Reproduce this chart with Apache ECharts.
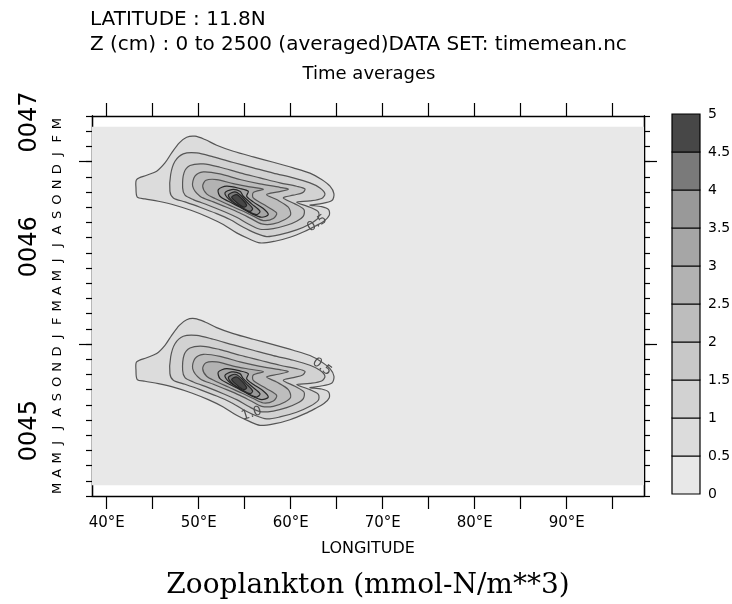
<!DOCTYPE html>
<html><head><meta charset="utf-8">
<script src="https://cdn.jsdelivr.net/npm/echarts@6/dist/echarts.min.js"></script>
<style>html,body{margin:0;padding:0;background:#fff}#c{width:732px;height:604px}</style>
</head><body><div id="c"></div>
<script>
// ---------- data ----------
// x: longitude (deg E); y: months counted from 1 Jan 0045 (Jan 0046 = 12, Jan 0047 = 24)
const lonTicks = [40, 45, 50, 55, 60, 65, 70, 75, 80, 85, 90, 95];
const lonLabels = [40, 50, 60, 70, 80, 90];
const monthTicks = [2,3,4,5,6,7,8,9,10,11,12,13,14,15,16,17,18,19,20,21,22,23,24,25,26,27];
const yearTicks = [12, 24];
const monthLetters = ['J','F','M','A','M','J','J','A','S','O','N','D'];
const yearNames = ['0045', '0046', '0047'];
const yearLabelPos = [6.3, 18.4, 26.6];
const levels = [0, 0.5, 1, 1.5, 2, 2.5, 3, 3.5, 4, 4.5, 5];
const levelColors = ['#e8e8e8','#dcdcdc','#d2d2d2','#c8c8c8','#bdbdbd','#b2b2b2','#a6a6a6','#999999','#7a7a7a','#474747'];
const fieldLon = [38.4, 98.4];
const fieldTime = [2.7, 26.3];
// the seasonal blob repeats each year: month index of 1 Jan of each year shown
const blobYearStart = [0, 12];
// contours of one blob: [lon, month within year]
const cont05 = [[43.25,10.82],[44.34,11.10],[45.43,11.37],[46.33,11.91],[47.06,12.57],[47.89,13.23],[48.69,13.60],[49.59,13.67],[50.68,13.45],[51.95,13.08],[53.76,12.68],[55.93,12.31],[58.11,11.96],[60.28,11.59],[62.09,11.24],[63.36,10.82],[64.27,10.38],[64.70,9.88],[64.48,9.44],[63.18,9.22],[62.09,9.13],[63.36,9.04],[64.12,8.84],[64.19,8.47],[63.61,8.08],[62.64,7.75],[61.55,7.42],[59.92,7.02],[58.29,6.76],[56.66,6.65],[55.39,6.94],[54.12,7.31],[52.67,7.86],[51.04,8.34],[49.23,8.78],[47.42,9.13],[45.61,9.39],[44.16,9.55],[43.32,9.66],[43.18,10.27]];
const cont10 = [[46.87,10.05],[46.95,11.15],[47.42,12.02],[48.32,12.51],[49.77,12.57],[51.59,12.31],[53.76,11.94],[55.93,11.59],[58.11,11.24],[60.28,10.93],[62.09,10.60],[63.18,10.27],[63.72,9.88],[63.36,9.57],[62.09,9.41],[60.64,9.33],[62.09,9.00],[63.00,8.69],[63.00,8.30],[62.09,7.90],[60.64,7.51],[58.83,7.20],[57.38,7.07],[56.11,7.31],[54.85,7.68],[53.40,8.19],[51.95,8.58],[50.14,9.00],[48.51,9.35],[47.24,9.61]];
const cont15 = [[48.25,10.27],[48.40,11.26],[49.05,11.74],[50.50,11.85],[52.31,11.63],[54.48,11.26],[56.66,10.93],[58.83,10.60],[60.64,10.38],[61.55,10.20],[61.30,9.96],[60.28,9.79],[59.19,9.61],[60.46,9.22],[61.44,8.84],[61.37,8.41],[60.64,8.08],[59.56,7.81],[58.11,7.59],[56.66,7.55],[55.39,7.90],[54.12,8.34],[52.67,8.73],[51.04,9.13],[49.41,9.50],[48.51,9.79]];
const cont20 = [[49.34,10.38],[49.59,11.04],[50.50,11.32],[52.31,11.19],[54.48,10.82],[56.66,10.53],[58.83,10.31],[59.74,10.18],[58.65,10.01],[57.38,9.83],[58.47,9.50],[59.74,9.00],[59.99,8.51],[59.38,8.19],[58.11,7.90],[56.84,7.90],[55.75,8.23],[54.48,8.62],[53.03,9.00],[51.59,9.35],[50.14,9.72]];
const cont25 = [[50.43,10.38],[50.79,10.77],[51.95,10.82],[53.76,10.55],[55.57,10.34],[57.02,10.18],[55.93,9.96],[55.93,9.61],[57.38,9.06],[58.47,8.62],[58.11,8.25],[57.02,8.12],[55.93,8.41],[54.66,8.78],[53.22,9.17],[51.77,9.57],[50.86,9.88]];
const cont30 = [[52.13,10.16],[53.03,10.38],[54.48,10.23],[55.39,10.05],[55.21,9.72],[55.93,9.35],[57.02,8.91],[57.56,8.51],[56.84,8.34],[55.75,8.58],[54.48,9.00],[53.22,9.39],[52.31,9.72]];
const cont35 = [[52.85,9.94],[53.58,10.16],[54.48,10.05],[54.85,9.72],[55.75,9.22],[56.66,8.73],[56.30,8.51],[55.39,8.73],[54.30,9.13],[53.32,9.50]];
const cont40 = [[53.22,9.79],[53.94,10.01],[54.56,9.79],[55.14,9.39],[55.86,8.91],[55.57,8.73],[54.66,9.00],[53.76,9.35]];
const cont45 = [[53.58,9.66],[54.12,9.83],[54.66,9.57],[55.21,9.13],[54.92,9.00],[54.19,9.28]];
const contourLevels = [0.5, 1.0, 1.5, 2.0, 2.5, 3.0, 3.5, 4.0, 4.5];
const contourPaths = [cont05, cont10, cont15, cont20, cont25, cont30, cont35, cont40, cont45];
// contour labels: [lon, month, text, rotation(rad)]
const contourLabels = [[62.85, 19.93, '0.5', 0.55], [63.4, 10.5, '0.5', -0.65], [55.75, 7.42, '1.0', 0.3]];

// ---------- chart ----------
const SANS = "'DejaVu Sans', sans-serif";
const chart = echarts.init(document.getElementById('c'), null, {renderer: 'canvas'});

const contourData = [];
blobYearStart.forEach(function (ys) {
  contourPaths.forEach(function (p, i) { contourData.push([ys, i]); });
});

const axisLineStyle = {color: '#000', width: 1.3};
const tickStyle = {color: '#000', width: 1.2};

function nearestIdx(arr, v) {
  let b = 0;
  for (let i = 1; i < arr.length; i++) if (Math.abs(arr[i] - v) < Math.abs(arr[b] - v)) b = i;
  return b;
}

const option = {
  animation: false,
  backgroundColor: '#fff',
  title: [
    {text: 'LATITUDE : 11.8N', left: 90, top: 10, padding: 0, textStyle: {fontFamily: SANS, fontSize: 20, fontWeight: 'normal', color: '#000'}},
    {text: 'Z (cm) : 0 to 2500 (averaged)DATA SET: timemean.nc', left: 90, top: 35, padding: 0, textStyle: {fontFamily: SANS, fontSize: 20, fontWeight: 'normal', color: '#000'}},
    {text: 'Time averages', left: 369, textAlign: 'center', top: 65, padding: 0, textStyle: {fontFamily: SANS, fontSize: 18, fontWeight: 'normal', color: '#000'}},
    {text: 'LONGITUDE', left: 368, textAlign: 'center', top: 541, padding: 0, textStyle: {fontFamily: SANS, fontSize: 16, fontWeight: 'normal', color: '#000'}},
    {text: 'Zooplankton (mmol-N/m**3)', left: 368, textAlign: 'center', top: 572, padding: 0, textStyle: {fontFamily: "'DejaVu Serif', serif", fontSize: 28, fontWeight: 'normal', color: '#000'}}
  ],
  grid: [
    {left: 92, top: 116, width: 552, height: 380, containLabel: false, outerBoundsMode: 'none'},
    {left: 672, top: 114, width: 28, height: 380, containLabel: false, outerBoundsMode: 'none'}
  ],
  xAxis: [
    {type: 'value', gridIndex: 0, position: 'bottom', min: fieldLon[0], max: fieldLon[1],
     axisLine: {show: true, lineStyle: axisLineStyle},
     axisTick: {show: true, customValues: lonTicks, length: 13, lineStyle: tickStyle},
     axisLabel: {show: true, customValues: lonLabels, margin: 20, formatter: function (v) { return v + '°E'; }, fontFamily: SANS, fontSize: 15, color: '#000'},
     splitLine: {show: false}},
    {type: 'value', gridIndex: 0, position: 'top', min: fieldLon[0], max: fieldLon[1],
     axisLine: {show: true, lineStyle: axisLineStyle},
     axisTick: {show: true, customValues: lonTicks, length: 13, lineStyle: tickStyle},
     axisLabel: {show: false}, splitLine: {show: false}},
    {type: 'value', gridIndex: 1, min: 0, max: 1, show: false}
  ],
  yAxis: [
    {type: 'value', gridIndex: 0, position: 'left', min: 2, max: 27,
     axisLine: {show: true, lineStyle: axisLineStyle},
     axisTick: {show: true, customValues: monthTicks, length: 6, lineStyle: tickStyle},
     axisLabel: {show: true, customValues: monthTicks.slice(0, -1).map(function (v) { return v + 0.5; }), rotate: 90, margin: 28,
       formatter: function (v) { return monthLetters[Math.floor(v) % 12]; }, fontFamily: SANS, fontSize: 13, color: '#000'},
     splitLine: {show: false}},
    {type: 'value', gridIndex: 0, position: 'right', min: 2, max: 27,
     axisLine: {show: true, lineStyle: axisLineStyle},
     axisTick: {show: true, customValues: monthTicks, length: 6, lineStyle: tickStyle},
     axisLabel: {show: false}, splitLine: {show: false}},
    {type: 'value', gridIndex: 0, position: 'left', min: 2, max: 27,
     axisLine: {show: true, lineStyle: axisLineStyle},
     axisTick: {show: true, customValues: yearTicks, length: 13, lineStyle: tickStyle},
     axisLabel: {show: true, customValues: yearLabelPos, rotate: 90, margin: 50,
       formatter: function (v) { return yearNames[nearestIdx(yearLabelPos, v)]; }, fontFamily: SANS, fontSize: 24, color: '#000'},
     splitLine: {show: false}},
    {type: 'value', gridIndex: 0, position: 'right', min: 2, max: 27,
     axisLine: {show: true, lineStyle: axisLineStyle},
     axisTick: {show: true, customValues: yearTicks, length: 13, lineStyle: tickStyle},
     axisLabel: {show: false}, splitLine: {show: false}},
    {type: 'value', gridIndex: 1, position: 'right', min: 0, max: 5, interval: 0.5,
     axisLine: {show: false}, axisTick: {show: false}, splitLine: {show: false},
     axisLabel: {show: true, margin: 8, fontFamily: SANS, fontSize: 14, color: '#000', formatter: function (v) { return String(v); }}}
  ],
  series: [
    {type: 'custom', xAxisIndex: 0, yAxisIndex: 0, silent: true,
     data: [[fieldLon[0], fieldTime[0], fieldLon[1], fieldTime[1]]],
     renderItem: function (params, api) {
       const a = api.coord([api.value(0), api.value(3)]);
       const b = api.coord([api.value(2), api.value(1)]);
       return {type: 'rect', shape: {x: a[0], y: a[1], width: b[0] - a[0], height: b[1] - a[1]}, style: {fill: levelColors[0]}};
     }},
    {type: 'custom', xAxisIndex: 0, yAxisIndex: 0, silent: true,
     data: contourData,
     renderItem: function (params, api) {
       const ys = api.value(0), idx = api.value(1);
       const pts = contourPaths[idx].map(function (p) { return api.coord([p[0], p[1] + ys]); });
       const lv = contourLevels[idx];
       const ci = levels.indexOf(lv);
       return {type: 'polygon', shape: {points: pts, smooth: 0.3},
         style: {fill: levelColors[ci], stroke: lv >= 3 ? '#262626' : '#555555', lineWidth: 1.2}};
     }},
    {type: 'custom', xAxisIndex: 0, yAxisIndex: 0, silent: true,
     data: contourLabels,
     renderItem: function (params, api) {
       const p = api.coord([api.value(0), api.value(1)]);
       const item = contourLabels[params.dataIndex];
       return {type: 'text', x: p[0], y: p[1], rotation: item[3],
         style: {text: item[2], fill: '#505050', font: "13px 'DejaVu Sans', sans-serif", align: 'center', verticalAlign: 'middle'}};
     }},
    {type: 'custom', xAxisIndex: 2, yAxisIndex: 4, silent: true,
     data: levels.slice(0, -1).map(function (lo, i) { return [lo, levels[i + 1], i]; }),
     renderItem: function (params, api) {
       const a = api.coord([0, api.value(1)]);
       const b = api.coord([1, api.value(0)]);
       return {type: 'rect', shape: {x: a[0], y: a[1], width: b[0] - a[0], height: b[1] - a[1]},
         style: {fill: levelColors[api.value(2)], stroke: '#000', lineWidth: 1.2}};
     }}
  ]
};
chart.setOption(option);
</script>
</body></html>
